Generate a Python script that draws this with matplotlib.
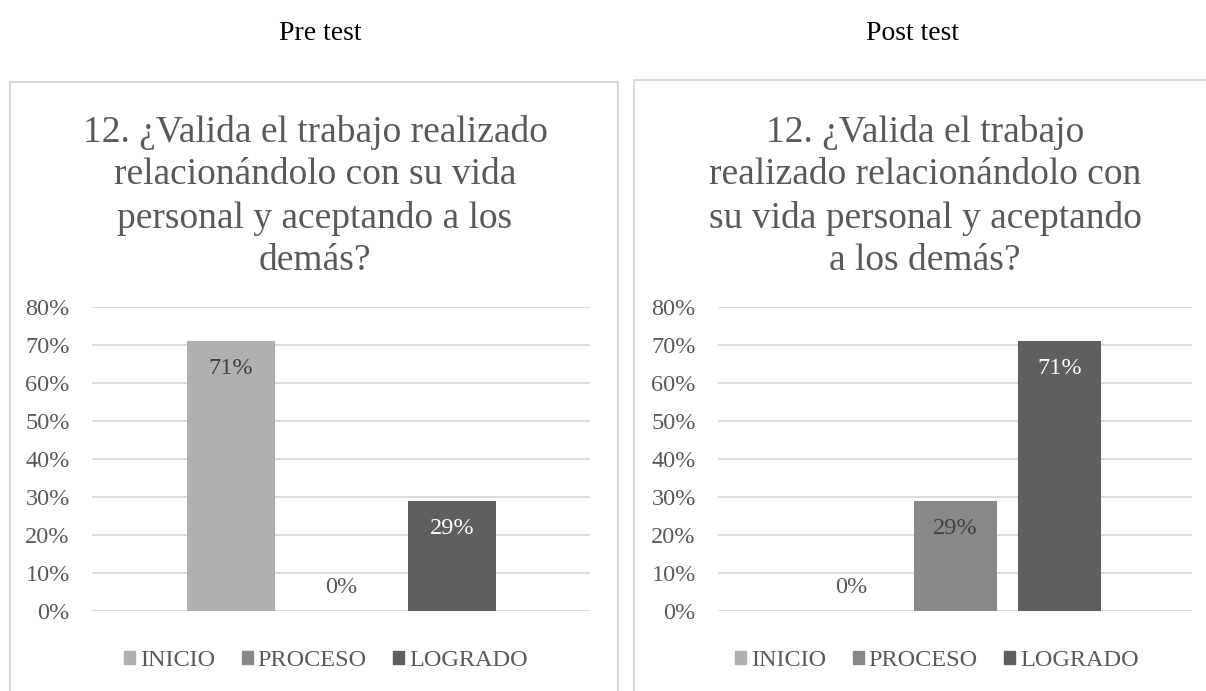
import matplotlib.pyplot as plt
from matplotlib.patches import Rectangle

# data
categories = ["INICIO", "PROCESO", "LOGRADO"]
pre_values = [0.71, 0.0, 0.29]
post_values = [0.0, 0.29, 0.71]
panel_names = ["Pre test", "Post test"]
title_lines_pre = ["12. ¿Valida el trabajo realizado", "relacionándolo con su vida", "personal y aceptando a los", "demás?"]
title_lines_post = ["12. ¿Valida el trabajo", "realizado relacionándolo con", "su vida personal y aceptando", "a los demás?"]
yticks = [0, 0.1, 0.2, 0.3, 0.4, 0.5, 0.6, 0.7, 0.8]

bar_colors = ["#b0b0b0", "#888888", "#5f5f5f"]
label_colors = ["#404040", "#404040", "white"]
text_color = "#595959"
grid_color = "#d9d9d9"

plt.rcParams['font.family'] = ['Liberation Serif', 'DejaVu Serif']

W, H = 1206, 691
fig = plt.figure(figsize=(W / 100, H / 100), dpi=100)

def fx(px):
    return px / W

def fy(py):
    return 1 - py / H

# panel borders
fig.patches.append(Rectangle((fx(10), fy(700)), fx(608), fy(82) - fy(700),
                             transform=fig.transFigure, fill=False,
                             edgecolor=grid_color, lw=1.5))
fig.patches.append(Rectangle((fx(634), fy(700)), fx(600), fy(80) - fy(700),
                             transform=fig.transFigure, fill=False,
                             edgecolor=grid_color, lw=1.5))

# top captions
fig.text(fx(320), fy(33), panel_names[0], ha='center', va='center', fontsize=20, color='black')
fig.text(fx(912), fy(33), panel_names[1], ha='center', va='center', fontsize=20, color='black')


def draw_panel(x0, x1, xlim, values, title_lines, title_cx, legend_cx):
    ax = fig.add_axes([fx(x0), fy(611), fx(x1) - fx(x0), fy(307) - fy(611)])
    xs = range(len(categories))
    bars = ax.bar(xs, values, width=0.8, color=bar_colors, zorder=3)
    ax.set_xlim(*xlim)
    ax.set_ylim(0, 0.8)
    ax.set_yticks(yticks)
    ax.set_yticklabels([f"{int(round(t * 100))}%" for t in yticks])
    ax.tick_params(axis='y', length=0, labelsize=17.5, labelcolor=text_color, pad=16)
    ax.set_xticks([])
    for s in ax.spines.values():
        s.set_visible(False)
    ax.grid(axis='y', color=grid_color, lw=1.3, zorder=0)
    for i, (b, v) in enumerate(zip(bars, values)):
        if v > 0:
            dy, col = -20, label_colors[i]
        else:
            dy, col = 17, text_color
        ax.annotate(f"{int(round(v * 100))}%", (b.get_x() + b.get_width() / 2, v),
                    xytext=(0, dy), textcoords='offset points',
                    ha='center', va='center', fontsize=17.5, color=col, zorder=4)
    for k, line in enumerate(title_lines):
        fig.text(fx(title_cx), fy(132 + k * 43), line, ha='center', va='center',
                 fontsize=27, color=text_color)
    handles = [Rectangle((0, 0), 1, 1, color=c) for c in bar_colors]
    fig.legend(handles, categories, loc='center', bbox_to_anchor=(fx(legend_cx), fy(661)),
               ncol=3, frameon=False, fontsize=17.5, handlelength=0.45, handleheight=0.45,
               handletextpad=0.2, columnspacing=1.1, labelcolor=text_color)
    return ax


draw_panel(92, 590, (-1.256, 3.249), pre_values, title_lines_pre, 315, 326)
draw_panel(718, 1192, (-1.284, 3.274), post_values, title_lines_post, 925, 937)

fig.savefig("out.png", dpi=100)
